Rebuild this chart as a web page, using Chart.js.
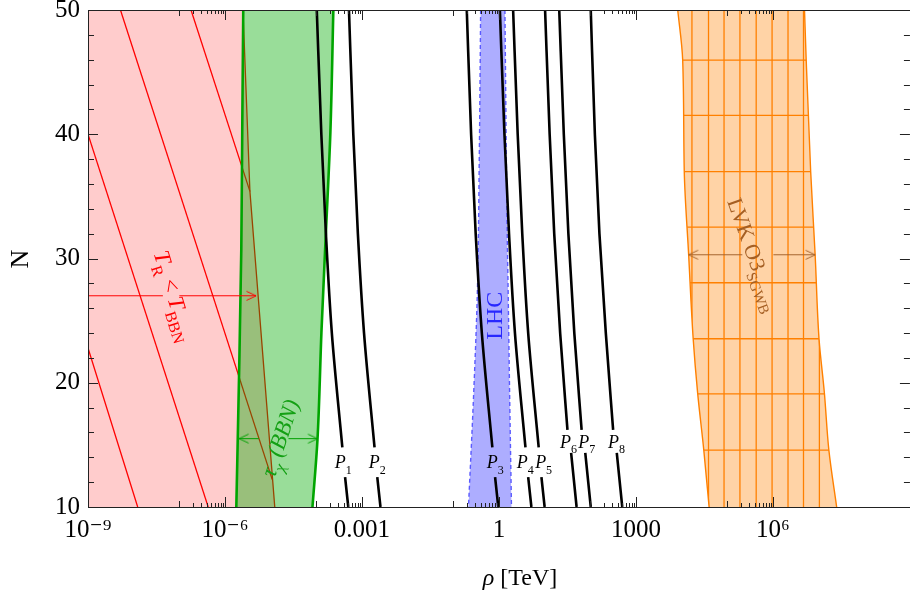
<!DOCTYPE html>
<html>
<head>
<meta charset="utf-8">
<script src="https://cdn.jsdelivr.net/npm/chart.js@4.4.1/dist/chart.umd.min.js"></script>
<style>
  html, body { margin: 0; padding: 0; background: #fff; }
  #wrap { width: 910px; height: 600px; }
</style>
</head>
<body>
<div id="wrap"><canvas id="c" width="910" height="600"></canvas></div>
<script>
// ── data: every x value is log10(rho / TeV), every y value is N ─────────────
const xMinExp     = -9;
const xMaxExp     = 8.87;   // the frame is cut off just short of 10^9
const xFrameExp   = 9;
const xTickExps   = [-9, -6, -3, 0, 3, 6];
const xTickLabels = ['10⁻⁹', '10⁻⁶', '0.001', '1', '1000', '10⁶'];
const yTickValues = [10, 20, 30, 40, 50];

// T_R < T_BBN: right edge of the excluded region (filled to the left edge)
const bbnTempEdge = [[-5.606, 50], [-5.454, 35.4], [-4.910, 10]];
// red T_R contours inside it
const tempContours = [
    [[-9.0, 40.0], [-6.368, 10]],
    [[-8.289, 50], [-4.965, 12.2]],
    [[-6.744, 50], [-5.454, 35.4]],
    [[-9.0, 22.8], [-7.912, 10]]
];
// tau_chi (BBN) band
const bbnLifeLeft  = [[-5.600, 50], [-5.622, 40.4], [-5.643, 30.7], [-5.693, 20.4], [-5.752, 10]];
const bbnLifeRight = [[-3.627, 50], [-3.692, 40.15], [-3.790, 32.1], [-3.888, 24.05], [-3.975, 15.4], [-4.084, 10]];
// LHC band
const lhcLeft  = [[-0.401, 50], [-0.429, 38.8], [-0.473, 27.3], [-0.560, 18.6], [-0.668, 10]];
const lhcRight = [[0.130, 50], [0.180, 32.1], [0.201, 27.3], [0.240, 17.5], [0.274, 10]];
// LVK O3 SGWB band and its mesh
const lvkLeft  = [[3.915, 50], [4.023, 46.0], [4.058, 37.0], [4.154, 30.3], [4.254, 23.5], [4.350, 19.2], [4.485, 14.6], [4.602, 10]];
const lvkRight = [[6.691, 50], [6.728, 46.0], [6.826, 37.0], [6.924, 30.3], [7.010, 23.5], [7.126, 19.2], [7.224, 14.6], [7.395, 10]];
const lvkMeshX = [4.226, 4.589, 4.929, 5.277, 5.633, 5.981, 6.330, 6.669, 7.017];
const lvkMeshN = [45.97, 41.52, 37.0, 32.53, 28.05, 23.54, 19.1, 14.57];

// benchmark curves P1..P8 (null = gap for the label)
const pNames = ['1', '2', '3', '4', '5', '6', '7', '8'];
const pCurves = [
    [[-3.99, 50], [-3.89, 40], [-3.79, 32], [-3.66, 24], [-3.43, 14.8], null, [-3.37, 12.4], [-3.30, 10]],
    [[-3.285, 50], [-3.19, 40], [-3.09, 32], [-2.955, 24], [-2.725, 14.8], null, [-2.665, 12.4], [-2.595, 10]],
    [[-0.705, 50], [-0.61, 40], [-0.51, 32], [-0.375, 24], [-0.145, 14.8], null, [-0.085, 12.4], [-0.015, 10]],
    [[0.02, 50], [0.12, 40], [0.22, 32], [0.35, 24], [0.58, 14.8], null, [0.64, 12.4], [0.71, 10]],
    [[0.31, 50], [0.41, 40], [0.51, 32], [0.64, 24], [0.87, 14.8], null, [0.93, 12.4], [1.00, 10]],
    [[1.01, 50], [1.11, 40], [1.21, 32], [1.34, 24], [1.50, 16.2], null, [1.58, 14.35], [1.70, 10]],
    [[1.32, 50], [1.42, 40], [1.52, 32], [1.65, 24], [1.81, 16.2], null, [1.89, 14.35], [2.01, 10]],
    [[2.01, 50], [2.10, 40], [2.20, 32], [2.34, 24], [2.50, 16.2], null, [2.58, 14.35], [2.70, 10]]
];
const pLabelPos = [[-3.409, 13.6], [-2.663, 13.6], [-0.081, 13.6], [0.578, 13.6], [0.978, 13.6],
                   [1.522, 15.26], [1.92, 15.26], [2.573, 15.26]];

// arrows: [from, to, head at "to"]
const tempArrowN = 27.0;
const tempArrow  = [[-9.0, -7.36, false], [-7.0, -5.32, true]];
const lifeArrowN = 15.5;
const lifeArrow  = [[-5.26, -5.69, true], [-4.61, -3.975, true]];
const lvkArrowN  = 30.3;
const lvkArrow   = [[5.33, 4.154, true], [6.01, 6.924, true]];

// ── helpers ─────────────────────────────────────────────────────────────────
const SERIF = '"Liberation Serif", "DejaVu Serif", serif';
const toPts = arr => arr.map((p, i) => p ? { x: Math.pow(10, p[0]), y: p[1] }
                                         : { x: null, y: (arr[i - 1][1] + arr[i + 1][1]) / 2 });

function chevron(color) {
    const c = document.createElement('canvas');
    c.width = 22; c.height = 12;
    const g = c.getContext('2d');
    g.strokeStyle = color; g.lineWidth = 1;
    g.beginPath(); g.moveTo(1.5, 1.5); g.lineTo(11, 6); g.lineTo(1.5, 10.5); g.stroke();
    return c;
}

function lineSet(arr, color, width, order, extra) {
    return Object.assign({ data: toPts(arr), borderColor: color, borderWidth: width,
        pointRadius: 0, fill: false, order: order, spanGaps: false }, extra || {});
}
const smooth = { cubicInterpolationMode: 'monotone' };
const withSmooth = extra => Object.assign({}, smooth, extra || {});

function arrowSets(pieces, n, color) {
    const head = chevron(color);
    return pieces.map(([from, to, hasHead]) => lineSet([[from, n], [to, n]], color, 1, 40, {
        pointRadius: [0, hasHead ? 5 : 0],
        pointStyle: head,
        pointRotation: to > from ? 0 : 180
    }));
}

function drawRich(ctx, parts, x, y, angle, size, color) {
    ctx.save();
    ctx.translate(x, y);
    ctx.rotate(angle * Math.PI / 180);
    ctx.fillStyle = color;
    ctx.textBaseline = 'alphabetic';
    const fontOf = p => (p.it ? 'italic ' : '') + Math.round(p.sub ? size * 0.68 : size) + 'px ' + SERIF;
    let w = 0;
    parts.forEach(p => { ctx.font = fontOf(p); p.w = ctx.measureText(p.t).width; w += p.w; });
    let cx = -w / 2;
    parts.forEach(p => {
        ctx.font = fontOf(p);
        ctx.fillText(p.t, cx, size * 0.33 + (p.sub ? size * 0.3 : 0));
        cx += p.w;
    });
    ctx.restore();
}

// ── datasets ────────────────────────────────────────────────────────────────
const datasets = [];
datasets.push(lineSet(bbnTempEdge, '#ff0000', 1.3, 100,
    { fill: { value: Math.pow(10, xMinExp) }, backgroundColor: 'rgba(255,0,0,0.2)' }));
tempContours.forEach(c => datasets.push(lineSet(c, '#ff0000', 1.3, 95)));

datasets.push(lineSet(bbnLifeLeft, 'rgb(0,165,0)', 2.6, 80, withSmooth()));
datasets.push(lineSet(bbnLifeRight, 'rgb(0,165,0)', 2.6, 80,
    withSmooth({ fill: datasets.length - 1, backgroundColor: 'rgba(0,170,0,0.4)' })));

datasets.push(lineSet(lhcLeft, 'rgb(90,90,255)', 1.4, 70, withSmooth({ borderDash: [4, 3] })));
datasets.push(lineSet(lhcRight, 'rgb(90,90,255)', 1.4, 70,
    withSmooth({ borderDash: [4, 3], fill: datasets.length - 1, backgroundColor: 'rgba(0,0,255,0.32)' })));

datasets.push(lineSet(lvkLeft, 'rgb(255,128,0)', 1.4, 60, withSmooth()));
const lvkFillIndex = datasets.length;
datasets.push(lineSet(lvkRight, 'rgb(255,128,0)', 1.4, 60,
    withSmooth({ fill: datasets.length - 1, backgroundColor: 'rgba(255,128,0,0.35)' })));

pCurves.forEach(c => datasets.push(lineSet(c, '#000', 2.6, 50, withSmooth())));

arrowSets(tempArrow, tempArrowN, '#ff0000').forEach(d => datasets.push(d));
arrowSets(lifeArrow, lifeArrowN, 'rgb(0,160,0)').forEach(d => datasets.push(d));
arrowSets(lvkArrow, lvkArrowN, 'rgb(165,100,45)').forEach(d => datasets.push(d));

// ── plugins ─────────────────────────────────────────────────────────────────
const lvkMeshPlugin = {
    id: 'lvkMesh',
    afterDatasetDraw(chart, args) {
        if (args.index !== lvkFillIndex) return;
        const { ctx, scales: { x, y }, chartArea: a } = chart;
        const px = v => x.getPixelForValue(Math.pow(10, v));
        ctx.save();
        ctx.beginPath();
        lvkLeft.forEach(([lx, n], i) => i ? ctx.lineTo(px(lx), y.getPixelForValue(n)) : ctx.moveTo(px(lx), y.getPixelForValue(n)));
        lvkRight.slice().reverse().forEach(([lx, n]) => ctx.lineTo(px(lx), y.getPixelForValue(n)));
        ctx.closePath();
        ctx.clip();
        ctx.strokeStyle = 'rgb(255,128,0)';
        ctx.lineWidth = 1.3;
        ctx.beginPath();
        lvkMeshX.forEach(v => { ctx.moveTo(px(v), a.top); ctx.lineTo(px(v), a.bottom); });
        lvkMeshN.forEach(n => { const py = y.getPixelForValue(n); ctx.moveTo(a.left, py); ctx.lineTo(a.right, py); });
        ctx.stroke();
        ctx.restore();
    }
};

const labelPlugin = {
    id: 'labels',
    afterDatasetsDraw(chart) {
        const { ctx, scales: { x, y } } = chart;
        const at = (lx, n) => [x.getPixelForValue(Math.pow(10, lx)), y.getPixelForValue(n)];
        let p;
        p = at(-7.107, 27.0);
        drawRich(ctx, [{ t: 'T', it: true }, { t: 'R', sub: true }, { t: ' < ' }, { t: 'T', it: true }, { t: 'BBN', sub: true }],
            p[0], p[1], 73, 23, '#ff0000');
        p = at(-4.80, 15.55);
        drawRich(ctx, [{ t: 'τ', it: true }, { t: 'χ', sub: true, it: true }, { t: ' (BBN)', it: true }],
            p[0], p[1], -72, 23, 'rgb(20,160,20)');
        p = at(-0.103, 25.4);
        drawRich(ctx, [{ t: 'LHC' }], p[0], p[1], -90, 24, 'rgb(40,40,255)');
        p = at(5.58, 30.3);
        drawRich(ctx, [{ t: 'LVK O3' }, { t: 'SGWB', sub: true }], p[0], p[1], 70.5, 22, 'rgb(165,95,35)');
        pNames.forEach((name, i) => {
            p = at(pLabelPos[i][0], pLabelPos[i][1]);
            drawRich(ctx, [{ t: 'P', it: true }, { t: name, sub: true }], p[0], p[1], 0, 18, '#000');
        });
    }
};

const framePlugin = {
    id: 'frame',
    afterDraw(chart) {
        const { ctx, chartArea: a, scales: { x, y } } = chart;
        const right = x.getPixelForValue(Math.pow(10, xFrameExp));
        ctx.save();
        ctx.strokeStyle = '#222';
        ctx.lineWidth = 1;
        ctx.beginPath();
        ctx.moveTo(right, a.top + 0.5); ctx.lineTo(a.left + 0.5, a.top + 0.5);
        ctx.lineTo(a.left + 0.5, a.bottom + 0.5); ctx.lineTo(right, a.bottom + 0.5);
        const xt = (v, len) => {
            const px = Math.round(x.getPixelForValue(v)) + 0.5;
            ctx.moveTo(px, a.bottom); ctx.lineTo(px, a.bottom - len);
            ctx.moveTo(px, a.top); ctx.lineTo(px, a.top + len);
        };
        xTickExps.forEach(e => {
            xt(Math.pow(10, e), 10);
            if (e > xMinExp) for (let m = 1; m < 10; m++) xt(m * Math.pow(10, e - 1), m === 1 ? 6 : 4);
        });
        for (let n = 10; n <= 50; n += 2) {
            const len = yTickValues.includes(n) ? 10 : 6;
            const py = Math.round(y.getPixelForValue(n)) + 0.5;
            ctx.moveTo(a.left, py); ctx.lineTo(a.left + len, py);
            ctx.moveTo(right, py); ctx.lineTo(right - len, py);
        }
        ctx.stroke();
        ctx.restore();
        drawRich(ctx, [{ t: 'ρ', it: true }, { t: ' [TeV]' }], 520, 577, 0, 24, '#000');
        drawRich(ctx, [{ t: 'N' }], 19, 259, -90, 26, '#000');
    }
};

// ── chart ───────────────────────────────────────────────────────────────────
new Chart(document.getElementById('c').getContext('2d'), {
    type: 'line',
    data: { datasets },
    plugins: [lvkMeshPlugin, labelPlugin, framePlugin],
    options: {
        responsive: false,
        animation: false,
        events: [],
        indexAxis: 'y',
        layout: { padding: { top: 10, right: 0, left: 0, bottom: 0 } },
        plugins: { legend: { display: false }, tooltip: { enabled: false } },
        scales: {
            x: {
                type: 'logarithmic',
                min: Math.pow(10, xMinExp),
                max: Math.pow(10, xMaxExp),
                grid: { display: false, drawTicks: false },
                border: { display: false },
                afterBuildTicks: s => { s.ticks = xTickExps.map(e => ({ value: Math.pow(10, e) })); },
                afterFit: s => { s.height = 93; s.paddingLeft = 0; s.paddingRight = 0; },
                ticks: {
                    autoSkip: false, maxRotation: 0, padding: 8, color: '#000',
                    font: { family: SERIF, size: 25 },
                    callback: (v, i) => xTickLabels[i]
                }
            },
            y: {
                type: 'linear',
                min: 10,
                max: 50,
                grid: { display: false, drawTicks: false },
                border: { display: false },
                afterBuildTicks: s => { s.ticks = yTickValues.map(v => ({ value: v })); },
                afterFit: s => { s.width = 88; s.paddingTop = 0; s.paddingBottom = 0; },
                ticks: {
                    padding: 8, color: '#000',
                    font: { family: SERIF, size: 25 }
                }
            }
        }
    }
});
</script>
</body>
</html>
